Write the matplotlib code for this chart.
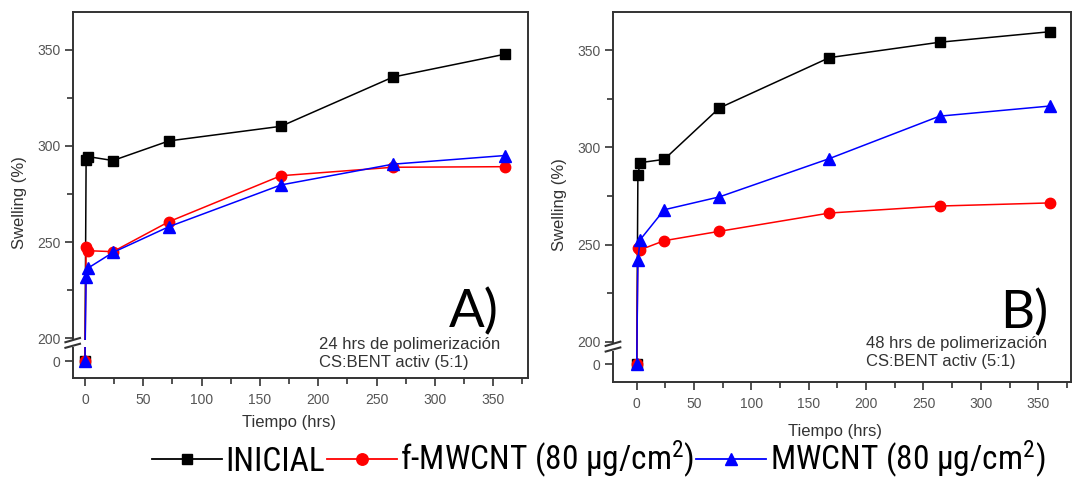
import numpy as np
import matplotlib
matplotlib.use("Agg")
import matplotlib.pyplot as plt
from matplotlib import font_manager, transforms
from matplotlib.lines import Line2D
from matplotlib.patches import Rectangle

# ---------------- data ----------------
time_h = [0, 1, 3, 24, 72, 168, 264, 360]

a_inicial = [0, 292.7, 294.4, 292.4, 302.6, 310.2, 335.8, 347.7]
a_fmwcnt = [0, 247.6, 245.5, 245.0, 260.6, 284.5, 288.9, 289.2]
a_mwcnt = [0, 232.0, 236.6, 244.6, 258.0, 279.7, 290.5, 295.0]

b_inicial = [0, 285.9, 292.1, 293.8, 320.2, 346.1, 354.0, 359.4]
b_fmwcnt = [0, 248.2, 247.3, 252.0, 256.8, 266.2, 269.8, 271.4]
b_mwcnt = [0, 242.2, 252.5, 267.9, 274.5, 294.2, 316.0, 321.2]

series_labels = ["INICIAL", "f-MWCNT (80 $\\mu$g/cm$^2$)", "MWCNT (80 $\\mu$g/cm$^2$)"]
panel_letters = ["A)", "B)"]
panel_notes = ["24 hrs de polimerización\nCS:BENT activ (5:1)",
               "48 hrs de polimerización\nCS:BENT activ (5:1)"]
y_major = [0, 200, 250, 300, 350]
y_minor = [225, 275, 325]
x_major = [0, 50, 100, 150, 200, 250, 300, 350]
x_minor = [25, 75, 125, 175, 225, 275, 325, 375]

# ---------------- fonts ----------------
def have(name):
    try:
        font_manager.findfont(name, fallback_to_default=False)
        return True
    except Exception:
        return False

base_font = "Liberation Sans" if have("Liberation Sans") else "DejaVu Sans"
narrow_font = base_font
for cand in ["Liberation Sans Narrow", "Roboto Condensed", "DejaVu Sans Condensed"]:
    if have(cand):
        narrow_font = cand
        break
big_font = "Lato" if have("Lato") else base_font

plt.rcParams["font.family"] = [base_font, "DejaVu Sans"]
plt.rcParams["mathtext.fontset"] = "custom"
plt.rcParams["mathtext.rm"] = narrow_font
plt.rcParams["mathtext.it"] = narrow_font

colors = ["black", "#ff0000", "#0000ff"]
markers = ["s", "o", "^"]
msizes = [7.0, 7.5, 8.5]

fig = plt.figure(figsize=(10.75, 4.82), dpi=100)

spine_col = "#333333"
tick_col = "#555555"
label_col = "#333333"


def make_scale(off):
    lo, hi = 5.0, 195.0

    def fwd(y):
        y = np.asarray(y, dtype=float)
        out = np.where(y >= hi, y,
                       np.where(y <= lo, y + off,
                                (off + lo) + (y - lo) * (hi - (off + lo)) / (hi - lo)))
        return out

    def inv(u):
        u = np.asarray(u, dtype=float)
        out = np.where(u >= hi, u,
                       np.where(u <= off + lo, u - off,
                                lo + (u - (off + lo)) * (hi - lo) / (hi - (off + lo))))
        return out
    return fwd, inv


panels = [
    dict(rect=[72.7 / 1075, 104 / 482, 455.6 / 1075, 366.3 / 482], xlim=(-10.5, 380),
         off=188.0, ylim=(-8.7, 369.8), data=(a_inicial, a_fmwcnt, a_mwcnt),
         ylab=(-0.10, 0.48), xlab=(0.475, -0.10), letter=(0.826, 0.245), note=(0.541, 0.112)),
    dict(rect=[613 / 1075, 100.3 / 482, 458 / 1075, 370 / 482], xlim=(-20.7, 378.6),
         off=188.4, ylim=(-8.9, 369.7), data=(b_inicial, b_fmwcnt, b_mwcnt),
         ylab=(-0.10, 0.48), xlab=(0.485, -0.115), letter=(0.846, 0.252), note=(0.553, 0.123)),
]

for i, p in enumerate(panels):
    ax = fig.add_axes(p["rect"])
    fwd, inv = make_scale(p["off"])
    ax.set_yscale("function", functions=(fwd, inv))
    for s, ys in enumerate(p["data"]):
        ax.plot(time_h, ys, color=colors[s], marker=markers[s], markersize=msizes[s],
                lw=1.1, zorder=3 + s, clip_on=False)
    ax.set_xlim(*p["xlim"])
    ax.set_ylim(*p["ylim"])
    ax.set_yticks(y_major)
    ax.set_yticks(y_minor, minor=True)
    ax.set_xticks(x_major)
    ax.set_xticks(x_minor, minor=True)
    ax.tick_params(which="both", direction="out", color=spine_col, width=1.2,
                   labelcolor=tick_col, labelsize=10, right=False, top=False)
    ax.tick_params(which="major", length=6, pad=3)
    ax.tick_params(which="minor", length=4)
    ax.tick_params(axis="x", which="major", pad=5)
    for sp in ax.spines.values():
        sp.set_color(spine_col)
        sp.set_linewidth(1.4)
    ax.set_ylabel("Swelling (%)", color=label_col, fontsize=12)
    ax.set_xlabel("Tiempo (hrs)", color=label_col, fontsize=12)
    ax.yaxis.set_label_coords(*p["ylab"])
    ax.xaxis.set_label_coords(*p["xlab"])

    # axis break
    bt = transforms.blended_transform_factory(ax.transAxes, ax.transData)
    ax.add_patch(Rectangle((-0.018, 195.4), 0.06, 3.9, transform=bt,
                           facecolor="white", edgecolor="none", zorder=10, clip_on=False))
    for yc in (196.0, 199.0):
        ax.add_line(Line2D([-0.016, 0.016], [yc - 1.1, yc + 1.1], transform=bt,
                           color=spine_col, lw=1.5, zorder=11, clip_on=False))

    ax.text(p["letter"][0], p["letter"][1], panel_letters[i], transform=ax.transAxes,
            fontsize=38, family=big_font, color="black", ha="left", va="top")
    ax.text(p["note"][0], p["note"][1], panel_notes[i], transform=ax.transAxes,
            fontsize=12, color=label_col, ha="left", va="top", linespacing=1.25)

handles = [Line2D([], [], color=colors[s], marker=markers[s], markersize=msizes[s] * 1.1,
                  lw=1.3) for s in range(3)]
fig.legend(handles, series_labels, loc="center", bbox_to_anchor=(0.557, 0.046), ncol=3,
           frameon=False, prop=dict(family=[narrow_font, "DejaVu Sans"], size=24),
           handlelength=2.1, handletextpad=0.1, columnspacing=0.05, borderaxespad=0,
           borderpad=0)

fig.savefig("out.png", dpi=100)
